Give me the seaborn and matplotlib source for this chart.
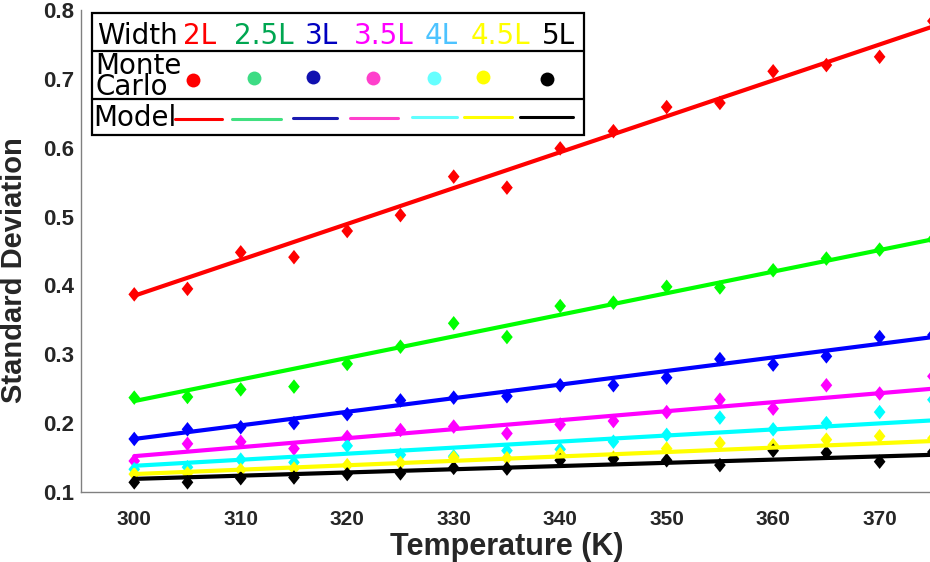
import numpy as np
import pandas as pd
import matplotlib
matplotlib.use("Agg")
import matplotlib.pyplot as plt
from matplotlib.path import Path
from matplotlib.patches import Rectangle
import seaborn as sns

# ---------------- data ----------------
temps = [300, 305, 310, 315, 320, 325, 330, 335, 340, 345, 350, 355, 360, 365, 370, 375]
widths = ["2L", "2.5L", "3L", "3.5L", "4L", "4.5L", "5L"]

mc_2L   = [0.387, 0.395, 0.448, 0.441, 0.479, 0.502, 0.558, 0.542, 0.599, 0.624, 0.659, 0.665, 0.711, 0.720, 0.732, 0.784]
mc_2_5L = [0.237, 0.238, 0.249, 0.253, 0.286, 0.311, 0.345, 0.325, 0.370, 0.375, 0.398, 0.397, 0.422, 0.439, 0.452, 0.467]
mc_3L   = [0.177, 0.191, 0.194, 0.200, 0.213, 0.233, 0.237, 0.239, 0.255, 0.255, 0.266, 0.293, 0.285, 0.297, 0.325, 0.328]
mc_3_5L = [0.145, 0.170, 0.173, 0.163, 0.180, 0.190, 0.195, 0.185, 0.198, 0.203, 0.216, 0.234, 0.221, 0.255, 0.243, 0.268]
mc_4L   = [0.133, 0.136, 0.147, 0.143, 0.167, 0.154, 0.152, 0.160, 0.162, 0.173, 0.183, 0.208, 0.191, 0.200, 0.216, 0.234]
mc_4_5L = [0.126, 0.127, 0.132, 0.134, 0.139, 0.142, 0.150, 0.149, 0.155, 0.150, 0.163, 0.171, 0.168, 0.176, 0.181, 0.178]
mc_5L   = [0.114, 0.114, 0.120, 0.121, 0.126, 0.127, 0.135, 0.134, 0.146, 0.148, 0.146, 0.139, 0.160, 0.157, 0.144, 0.158]
mc_all = [mc_2L, mc_2_5L, mc_3L, mc_3_5L, mc_4L, mc_4_5L, mc_5L]

model_T = [300, 375]
model_start = [0.385, 0.232, 0.177, 0.152, 0.138, 0.126, 0.119]
model_end   = [0.776, 0.467, 0.325, 0.250, 0.204, 0.174, 0.154]

x_ticks = [300, 310, 320, 330, 340, 350, 360, 370]
y_ticks = [0.1, 0.2, 0.3, 0.4, 0.5, 0.6, 0.7, 0.8]

# ---------------- styles ----------------
plot_colors = ["#ff0000", "#00ff00", "#0000ff", "#ff00ff", "#00ffff", "#ffff00", "#000000"]
leg_text_colors = ["#ff0000", "#00a651", "#0000c0", "#ff00ff", "#4dc3ff", "#ffff00", "#000000"]
leg_dot_colors = ["#ff0000", "#3ddc84", "#1010b0", "#ff40cc", "#66ffff", "#ffff00", "#000000"]
leg_line_colors = ["#ff0000", "#40e080", "#1a1ab0", "#ff40cc", "#60ffff", "#ffff00", "#000000"]

sns.set_theme(style="white")
plt.rcParams["font.family"] = ["Liberation Sans", "DejaVu Sans"]

fig = plt.figure(figsize=(9.3, 5.62), dpi=100)
ax = fig.add_axes([0.0871, 0.1246, 0.916, 0.8576])

diamond = Path([(0, 1), (0.8, 0), (0, -1), (-0.8, 0), (0, 1)],
               [Path.MOVETO, Path.LINETO, Path.LINETO, Path.LINETO, Path.CLOSEPOLY])

rows = []
for w, vals in zip(widths, mc_all):
    for t, v in zip(temps, vals):
        rows.append({"T": t, "sd": v, "width": w})
mc_df = pd.DataFrame(rows)

mrows = []
for w, a, b in zip(widths, model_start, model_end):
    mrows.append({"T": model_T[0], "sd": a, "width": w})
    mrows.append({"T": model_T[1], "sd": b, "width": w})
model_df = pd.DataFrame(mrows)

palette = dict(zip(widths, plot_colors))
sns.scatterplot(data=mc_df, x="T", y="sd", hue="width", palette=palette,
                marker=diamond, s=110, linewidth=0, legend=False, ax=ax,
                zorder=2, clip_on=False)
sns.lineplot(data=model_df, x="T", y="sd", hue="width", palette=palette,
             linewidth=3.0, legend=False, ax=ax, zorder=3)

ax.set_xlim(295, 375)
ax.set_ylim(0.1, 0.8)
ax.set_xticks(x_ticks)
ax.set_yticks(y_ticks)
ax.set_xticklabels([str(t) for t in x_ticks])
ax.set_yticklabels([f"{v:.1f}" for v in y_ticks])

for s in ["top", "right"]:
    ax.spines[s].set_visible(False)
for s in ["left", "bottom"]:
    ax.spines[s].set_color("#808080")
    ax.spines[s].set_linewidth(1.0)

ax.tick_params(axis="both", direction="in", length=6, width=1.0, color="#808080",
               labelsize=15, labelcolor="#262626")
ax.tick_params(axis="x", pad=13)
ax.tick_params(axis="y", pad=5, labelsize=16)
for lab in ax.get_xticklabels() + ax.get_yticklabels():
    lab.set_fontweight("bold")

ax.set_xlabel("Temperature (K)", fontsize=22, fontweight="bold", color="#262626", labelpad=2)
ax.set_ylabel("Standard Deviation", fontsize=21, fontweight="bold", color="#262626")
ax.yaxis.set_label_coords(-0.062, 0.46)

# ---------------- table-like legend (pixel coords) ----------------
lg = fig.add_axes([0, 0, 1, 1], facecolor="none")
lg.set_xlim(0, 930)
lg.set_ylim(562, 0)
lg.axis("off")

lfont = ["DejaVu Sans"]
box_l, box_r, box_t, box_b = 92, 584, 13, 135
lg.add_patch(Rectangle((box_l, box_t), box_r - box_l, box_b - box_t,
                       facecolor="white", edgecolor="black", linewidth=1.6, zorder=1))
for yy in [51, 99]:
    lg.plot([box_l, box_r], [yy, yy], color="black", linewidth=1.6, zorder=2)

lg.text(97, 44, "Width", fontsize=20, family=lfont, color="black", va="baseline", ha="left")
text_x = [183, 234, 305, 354, 425, 471, 542]
for w, x, c in zip(widths, text_x, leg_text_colors):
    lg.text(x, 44, w, fontsize=20, family=lfont, color=c, va="baseline", ha="left")

lg.text(95, 74, "Monte", fontsize=20, family=lfont, color="black", va="baseline", ha="left")
lg.text(95, 95, "Carlo", fontsize=20, family=lfont, color="black", va="baseline", ha="left")
dot_x = [193, 254, 313, 373, 434, 483, 547]
dot_y = [80, 78, 77, 78, 78, 77, 79]
for x, y, c in zip(dot_x, dot_y, leg_dot_colors):
    lg.plot([x], [y], marker="o", markersize=10, color=c, markeredgewidth=0, zorder=3)

lg.text(93, 126, "Model", fontsize=20, family=lfont, color="black", va="baseline", ha="left")
seg = [(175, 222), (232, 281), (293, 337), (350, 398), (412, 457), (464, 512), (520, 573)]
seg_y = [119, 119, 118, 118, 117, 117, 117]
for (x0, x1), y, c in zip(seg, seg_y, leg_line_colors):
    lg.plot([x0, x1], [y, y], color=c, linewidth=2.2, zorder=3)

fig.savefig("out.png", dpi=100)
